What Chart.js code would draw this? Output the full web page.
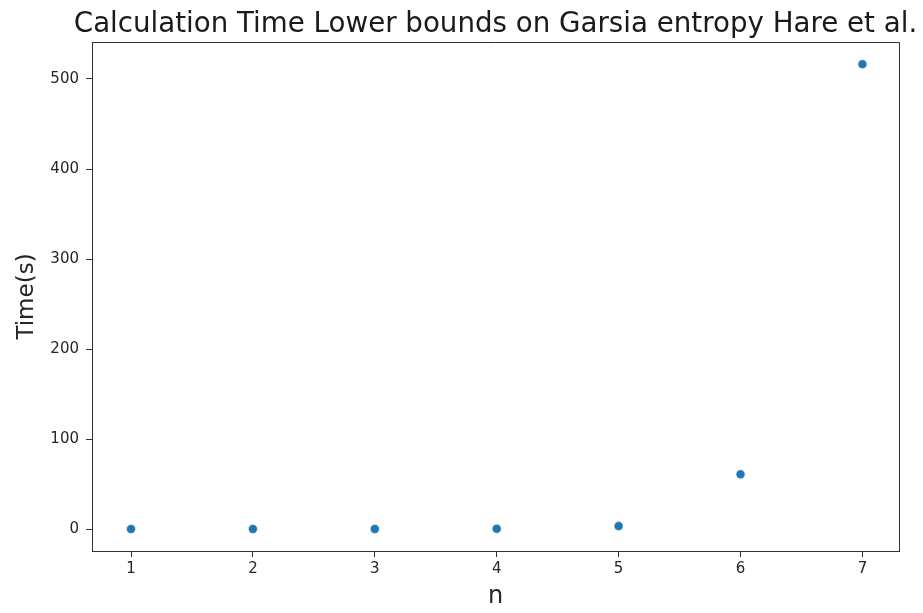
<!DOCTYPE html>
<html>
    <head>
        <title>Calculation Time</title>
        <script src="https://cdn.jsdelivr.net/npm/chart.js@4.2.1/dist/chart.umd.min.js"></script>
        <style>
            body { margin: 0; background: #fff; }
            #wrap { width: 923px; height: 613px; }
        </style>
    </head>
    <body>
        <div id="wrap"><canvas id="timeChart"></canvas></div>
        <script>
            const chartTitle = "Calculation Time Lower bounds on Garsia entropy Hare et al.";
            const nValues = [1, 2, 3, 4, 5, 6, 7];
            const timeValues = [0.02, 0.05, 0.1, 0.3, 3.3, 60.8, 516.5];
            const xTickValues = [1, 2, 3, 4, 5, 6, 7];
            const yTickValues = [0, 100, 200, 300, 400, 500];

            const axisColor = "#333333";
            const textColor = "#262626";
            const fontName = "'DejaVu Sans', sans-serif";

            // top/right spines + title centred over the plot area, like matplotlib
            const framePlugin = {
                id: "frame",
                afterDraw: (chart) => {
                    const { ctx, chartArea } = chart;
                    ctx.save();
                    ctx.strokeStyle = axisColor;
                    ctx.lineWidth = 1;
                    ctx.beginPath();
                    ctx.moveTo(chartArea.left, chartArea.top + 0.5);
                    ctx.lineTo(chartArea.right + 0.5, chartArea.top + 0.5);
                    ctx.lineTo(chartArea.right + 0.5, chartArea.bottom);
                    ctx.stroke();

                    ctx.fillStyle = "#1a1a1a";
                    ctx.font = "27.7px " + fontName;
                    ctx.textAlign = "center";
                    ctx.textBaseline = "alphabetic";
                    ctx.fillText(chartTitle, (chartArea.left + chartArea.right) / 2, 32);
                    ctx.restore();
                }
            };

            const chart = new Chart(document.getElementById("timeChart"), {
                type: "scatter",
                data: {
                    datasets: [{
                        label: "Time",
                        data: nValues.map((n, i) => ({ x: n, y: timeValues[i] })),
                        pointRadius: 4.5,
                        pointHoverRadius: 4.5,
                        backgroundColor: "#1f77b4",
                        borderColor: "#ffffff",
                        borderWidth: 0.5,
                    }]
                },
                options: {
                    responsive: true,
                    maintainAspectRatio: false,
                    animation: false,
                    layout: { padding: { top: 42, right: 24, left: 0, bottom: 0 } },
                    plugins: {
                        legend: { display: false },
                        tooltip: { enabled: false },
                    },
                    scales: {
                        x: {
                            type: "linear",
                            min: 0.68,
                            max: 7.3,
                            afterFit: (scale) => { scale.height = 62; },
                            afterBuildTicks: (scale) => { scale.ticks = xTickValues.map(v => ({ value: v })); },
                            border: { display: true, color: axisColor, width: 1 },
                            grid: { display: true, drawOnChartArea: false, drawTicks: true, tickLength: 6, tickColor: axisColor },
                            ticks: { color: textColor, padding: 3, font: { family: fontName, size: 15 } },
                            title: {
                                display: true,
                                text: "n",
                                color: textColor,
                                font: { family: fontName, size: 24 },
                                padding: { top: 0, bottom: 2 },
                            },
                        },
                        y: {
                            type: "linear",
                            min: -24.4,
                            max: 541.1,
                            afterFit: (scale) => { scale.width = 92; },
                            afterBuildTicks: (scale) => { scale.ticks = yTickValues.map(v => ({ value: v })); },
                            border: { display: true, color: axisColor, width: 1 },
                            grid: { display: true, drawOnChartArea: false, drawTicks: true, tickLength: 6, tickColor: axisColor },
                            ticks: { color: textColor, padding: 7, font: { family: fontName, size: 15 } },
                            title: {
                                display: true,
                                text: "Time(s)",
                                color: textColor,
                                font: { family: fontName, size: 23 },
                                padding: { top: 13, bottom: 0 },
                            },
                        },
                    },
                },
                plugins: [framePlugin],
            });
        </script>
    </body>
</html>
